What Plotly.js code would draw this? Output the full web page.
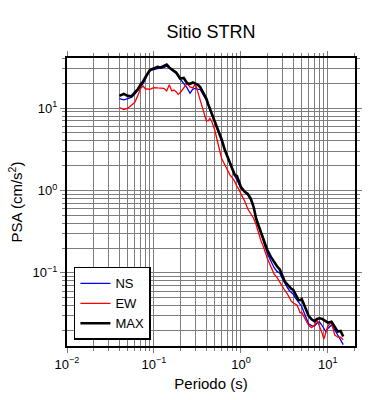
<!DOCTYPE html>
<html>
<head>
<meta charset="utf-8">
<script src="https://cdn.plot.ly/plotly-3.0.1.min.js"></script>
<style>html,body{margin:0;padding:0;background:#fff;}#chart{width:390px;height:400px;}</style>
</head>
<body>
<div id="chart"></div>
<script>
const periods = [0.04,0.045,0.05,0.055,0.06,0.065,0.07,0.075,0.08,0.085,0.09,0.095,
  0.1,0.11,0.12,0.13,0.14,0.15,0.16,0.17,0.18,0.19,0.2,
  0.22,0.24,0.26,0.28,0.3,0.32,0.34,0.36,0.38,0.4,0.42,0.44,0.46,0.48,0.5,
  0.55,0.6,0.65,0.7,0.75,0.8,0.85,0.9,0.95,1.0,
  1.1,1.2,1.3,1.4,1.5,1.6,1.7,1.8,1.9,2.0,
  2.2,2.4,2.6,2.8,3.0,3.2,3.4,3.6,3.8,4.0,4.2,4.4,4.6,4.8,
  5.0,5.5,6,6.5,7,7.5,8,8.5,9,9.5,10,11,12,13,14,15];

const psaNS = [13.1,12.6,13.1,13.5,14.7,16.4,17.8,19.9,22.6,26.4,28.3,29.1,
  29.5,30.2,30.5,31.0,32.6,30.8,28.7,27.5,26.4,24.3,22.6,
  20.2,17.6,15.2,17.1,17.4,16.9,16.9,15.5,13.8,12.6,11.0,9.6,8.5,7.6,6.6,
  5.1,4.05,3.1,2.52,2.07,1.75,1.5,1.34,1.2,1.07,
  0.96,0.88,0.77,0.62,0.45,0.37,0.305,0.25,0.206,0.174,
  0.14,0.116,0.104,0.099,0.085,0.074,0.067,0.061,0.058,0.055,0.05,0.047,0.044,0.0406,
  0.039,0.030,0.024,0.0228,0.0226,0.0245,0.0254,0.0232,0.021,0.0192,0.0211,0.0232,0.0202,0.0178,0.0153,0.0134];

const psaEW = [10.2,9.6,10.0,10.9,11.7,14.1,17.3,18.6,17.1,17.1,16.9,17.4,
  17.8,17.6,17.6,17.4,16.2,19.2,16.2,16.6,15.9,14.7,15.4,
  17.6,19.9,18.1,17.6,19.7,15.4,13.0,10.3,8.4,7.0,7.0,7.5,7.0,6.25,5.43,
  3.57,2.45,2.07,1.75,1.54,1.41,1.28,1.12,1.03,0.91,
  0.75,0.595,0.51,0.46,0.38,0.30,0.245,0.212,0.178,0.152,
  0.12,0.097,0.088,0.077,0.066,0.061,0.056,0.05,0.045,0.043,0.042,0.0406,0.0365,0.0325,
  0.033,0.0278,0.023,0.0216,0.0232,0.0267,0.0226,0.019,0.0157,0.0186,0.0226,0.0251,0.0175,0.0165,0.0165,0.0153];

const psaMAX = [14.1,14.9,14.1,13.9,15.4,16.9,19.2,21.1,23.9,26.8,29.1,30.0,
  30.3,31.7,31.2,32.6,33.8,31.2,30.0,28.3,27.1,24.6,22.9,
  23.3,20.2,19.7,20.5,19.9,19.2,18.1,16.2,14.6,13.1,11.2,9.9,8.7,7.8,6.85,
  5.27,4.17,3.15,2.55,2.1,1.77,1.54,1.5,1.3,1.1,
  0.97,0.91,0.79,0.63,0.45,0.37,0.31,0.265,0.224,0.192,
  0.157,0.135,0.12,0.11,0.091,0.078,0.073,0.067,0.064,0.062,0.057,0.051,0.0467,0.0465,
  0.048,0.0374,0.030,0.0272,0.0258,0.0275,0.028,0.0277,0.0267,0.0255,0.0248,0.0255,0.0221,0.0193,0.0196,0.0168];

const xMajor = [0.01,0.1,1,10];
const xMajorText = ['10<sup>−2</sup>','10<sup>−1</sup>','10<sup>0</sup>','10<sup>1</sup>'];
const yMajor = [0.1,1,10];
const yMajorText = ['10<sup>−1</sup>','10<sup>0</sup>','10<sup>1</sup>'];

function minorVals(decades, maxV){
  const out=[];
  decades.forEach(d=>{for(let k=2;k<=9;k++){const v=k*d; if(v<=maxV) out.push(v);}});
  return out;
}

const gridCol = 'rgb(125,125,125)';
const font = 'Arial, "Liberation Sans", Helvetica, sans-serif';

const traces = [
  {x: periods, y: psaNS, name: 'NS', mode: 'lines', line: {color: '#0000ff', width: 1.3}},
  {x: periods, y: psaEW, name: 'EW', mode: 'lines', line: {color: '#ff0000', width: 1.3}},
  {x: periods, y: psaMAX, name: 'MAX', mode: 'lines', line: {color: '#000000', width: 2.6}}
];

const axisCommon = {
  type: 'log',
  showline: true, linecolor: '#000', linewidth: 2, mirror: 'ticks',
  ticks: 'outside', ticklen: 5, tickcolor: gridCol, tickwidth: 1,
  showgrid: true, gridcolor: gridCol, gridwidth: 1,
  zeroline: false,
  tickfont: {size: 13, color: '#000', family: font}
};

const layout = {
  width: 390, height: 400,
  margin: {l: 67, r: 35, t: 58, b: 54},
  paper_bgcolor: '#fff', plot_bgcolor: '#fff',
  font: {family: font, color: '#000'},
  title: {text: 'Sitio STRN', font: {size: 18, color: '#000', family: font}, x: 0.541, xanchor: 'center', y: 0.92, yanchor: 'middle'},
  xaxis: Object.assign({}, axisCommon, {
    range: [-2, Math.log10(20.5)],
    tickmode: 'array', tickvals: xMajor, ticktext: xMajorText,
    minor: {tickvals: minorVals([0.01,0.1,1,10], 20.5), showgrid: true, gridcolor: gridCol, gridwidth: 1, ticks: 'outside', ticklen: 3, tickcolor: gridCol},
    title: {text: 'Periodo (s)', font: {size: 15, color: '#000', family: font}, standoff: 8}
  }),
  yaxis: Object.assign({}, axisCommon, {
    range: [Math.log10(0.0129), Math.log10(40.7)],
    tickmode: 'array', tickvals: yMajor, ticktext: yMajorText,
    minor: {tickvals: minorVals([0.01,0.1,1,10], 40.7), showgrid: true, gridcolor: gridCol, gridwidth: 1, ticks: 'outside', ticklen: 3, tickcolor: gridCol},
    title: {text: 'PSA (cm/s<sup>2</sup>)', font: {size: 15, color: '#000', family: font}, standoff: 6}
  }),
  showlegend: true,
  legend: {
    x: 0.024, y: 0.021, xanchor: 'left', yanchor: 'bottom',
    bgcolor: '#fff', bordercolor: '#000', borderwidth: 1.5,
    font: {size: 13, color: '#000', family: font},
    itemwidth: 30
  }
};

Plotly.newPlot('chart', traces, layout, {displayModeBar: false, staticPlot: true});
</script>
</body>
</html>
